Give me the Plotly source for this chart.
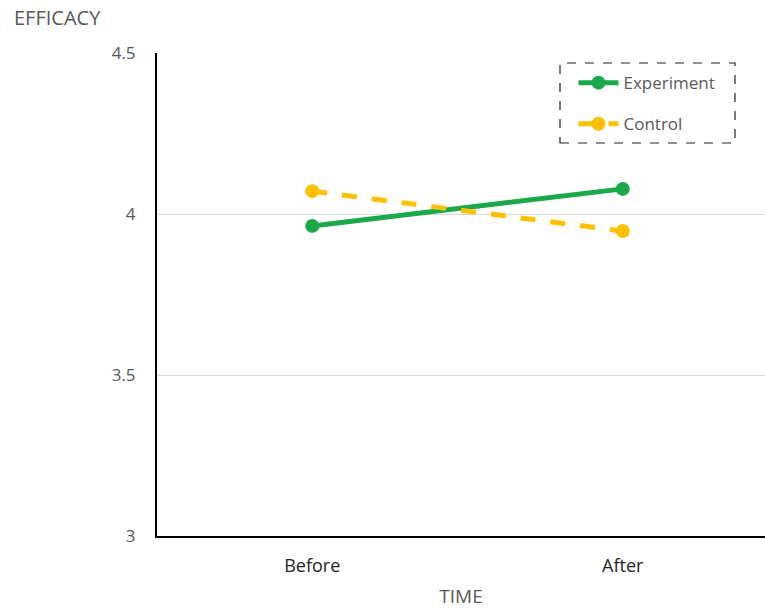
import plotly.graph_objects as go

categories = ["Before", "After"]
experiment = [3.963, 4.078]
control = [4.071, 3.947]
y_ticks = [3, 3.5, 4, 4.5]
y_tick_labels = ["3", "3.5", "4", "4.5"]

fig = go.Figure()
fig.add_trace(go.Scatter(
    x=categories, y=experiment, name="Experiment", mode="lines+markers",
    line=dict(color="#1aa84a", width=5),
    marker=dict(color="#1aa84a", size=14),
    legendgroup="a",
))
fig.add_trace(go.Scatter(
    x=categories, y=control, name="Control", mode="lines+markers",
    line=dict(color="#ffc000", width=5, dash="dash"),
    marker=dict(color="#ffc000", size=14),
    legendgroup="b",
))

fig.update_layout(
    width=765, height=610,
    margin=dict(l=157, r=0, t=53, b=74),
    plot_bgcolor="white", paper_bgcolor="white",
    font=dict(family="Open Sans, Liberation Sans, sans-serif", color="#595959", size=16),
    showlegend=True,
    legend=dict(
        x=0.685, y=0.975, xanchor="left", yanchor="top",
        bgcolor="rgba(0,0,0,0)", borderwidth=0,
        font=dict(size=17, color="#595959"),
        itemwidth=40, traceorder="grouped", tracegroupgap=16,
    ),
    xaxis=dict(
        type="category", range=[-0.5, 1.458],
        showline=True, linecolor="black", linewidth=2,
        showgrid=False, ticks="", zeroline=False,
        tickfont=dict(size=18, color="#262626"),
        ticklabelstandoff=12,
        title=dict(text="TIME", font=dict(size=19, color="#595959"), standoff=14),
    ),
    yaxis=dict(
        range=[3, 4.5], tickvals=y_ticks, ticktext=y_tick_labels,
        showline=True, linecolor="black", linewidth=2,
        showgrid=True, gridcolor="#d9d9d9", gridwidth=1,
        zeroline=False, ticks="", ticklabelstandoff=16,
        tickfont=dict(size=17, color="#595959"),
    ),
)

fig.add_shape(type="rect", xref="paper", yref="paper",
              x0=(560 - 157) / 608, x1=(735 - 157) / 608,
              y0=(536 - 143) / 483, y1=(536 - 63) / 483,
              line=dict(color="#222222", width=1.2, dash="dash"))

fig.add_annotation(text="EFFICACY", xref="paper", yref="paper",
                   x=(12 - 157) / 608, y=1 + 35 / 483, xanchor="left", yanchor="middle",
                   showarrow=False, font=dict(size=20, color="#595959"))

fig.write_html("out.html")
